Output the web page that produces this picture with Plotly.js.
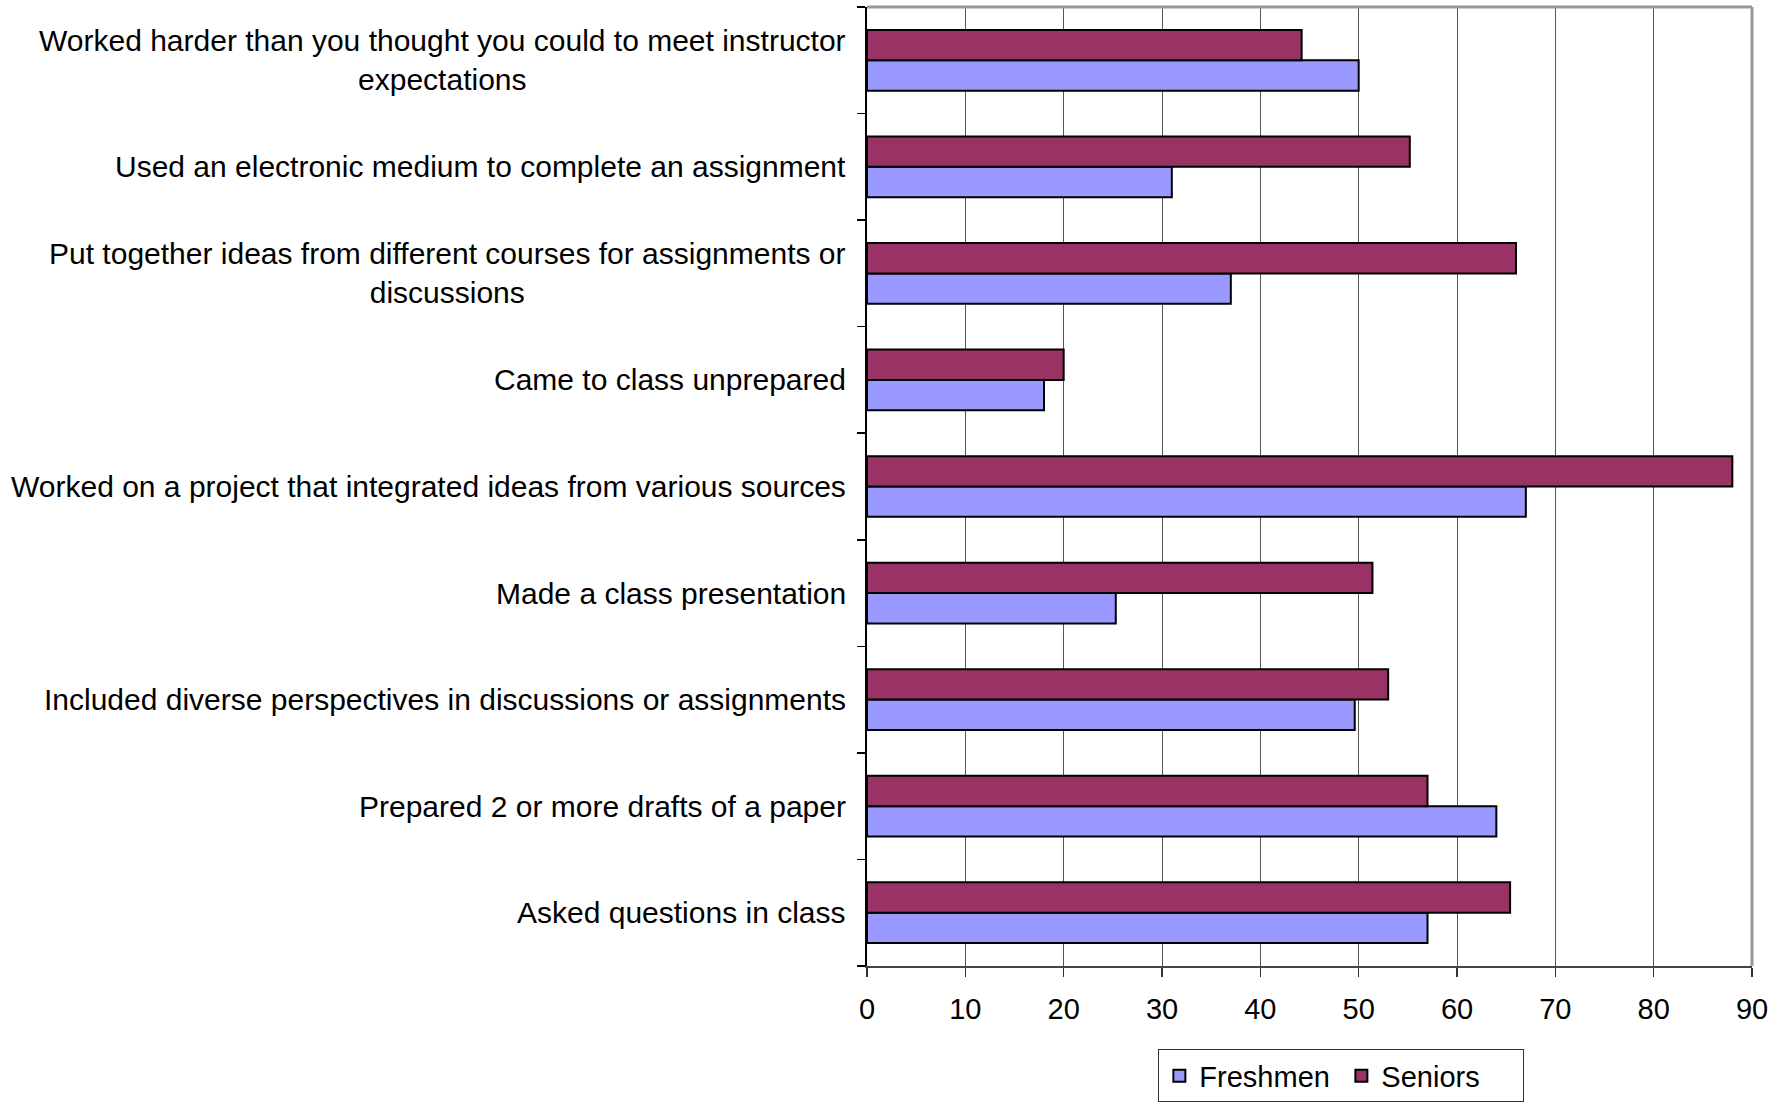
<!DOCTYPE html>
<html>
<head>
<meta charset="utf-8">
<script src="https://cdn.plot.ly/plotly-3.0.1.min.js"></script>
<style>
  html, body { margin: 0; padding: 0; background: #ffffff; }
  #chart { width: 1788px; height: 1107px; }
</style>
</head>
<body>
<div id="chart"></div>
<script>
// Categories, listed top to bottom as in the picture
const categories = [
  "Worked harder than you thought you could to meet instructor<br>expectations",
  "Used an electronic medium to complete an assignment",
  "Put together ideas from different courses for assignments or<br>discussions",
  "Came to class unprepared",
  "Worked on a project that integrated ideas from various sources",
  "Made a class presentation",
  "Included diverse perspectives in discussions or assignments",
  "Prepared 2 or more drafts of a paper",
  "Asked questions in class"
];
const freshmen = [50, 31, 37, 18, 67, 25.3, 49.6, 64, 57];
const seniors  = [44.2, 55.2, 66, 20, 88, 51.4, 53, 57, 65.4];
const seriesNames = ["Freshmen", "Seniors"];
const xTicks = [0, 10, 20, 30, 40, 50, 60, 70, 80, 90];

const FONT = "Liberation Sans, Arial, sans-serif";

const traces = [
  {
    type: "bar", orientation: "h", name: seriesNames[0],
    y: categories, x: freshmen,
    marker: { color: "#9999FF", line: { color: "#000000", width: 2 } },
    hoverinfo: "x+name"
  },
  {
    type: "bar", orientation: "h", name: seriesNames[1],
    y: categories, x: seniors,
    marker: { color: "#993366", line: { color: "#000000", width: 2 } },
    hoverinfo: "x+name"
  }
];

const annotations = categories.map(c => ({
  xref: "paper", yref: "y",
  x: 0, y: c, xanchor: "right", yanchor: "middle",
  xshift: -19,
  text: c, align: "center", showarrow: false,
  font: { family: FONT, size: 30, color: "#000000" }
}));

const layout = {
  width: 1788, height: 1107,
  margin: { l: 867, r: 36, t: 7, b: 141, pad: 0, autoexpand: false },
  paper_bgcolor: "#ffffff", plot_bgcolor: "#ffffff",
  font: { family: FONT, size: 29, color: "#000000" },
  barmode: "group", bargap: 0.43, bargroupgap: 0,
  showlegend: true,
  legend: {
    orientation: "h", x: 0.536, xanchor: "center", y: -0.087, yanchor: "top",
    bordercolor: "#333333", borderwidth: 1, bgcolor: "#ffffff",
    font: { family: FONT, size: 29, color: "#000000" },
    entrywidth: 137, entrywidthmode: "pixels",
    traceorder: "normal", itemclick: false, itemdoubleclick: false
  },
  xaxis: {
    range: [0, 90], tickvals: xTicks, ticktext: xTicks.map(String),
    ticks: "outside", ticklen: 9, tickwidth: 1.5, tickcolor: "#333333",
    showgrid: true, gridcolor: "#555555", gridwidth: 1,
    showline: true, linecolor: "#444444", linewidth: 2,
    zeroline: false, ticklabelstandoff: 7,
    tickfont: { family: FONT, size: 29, color: "#000000" },
    fixedrange: true
  },
  yaxis: {
    type: "category", categoryorder: "array",
    categoryarray: categories.slice().reverse(),
    range: [-0.5, categories.length - 0.5],
    showticklabels: false, tickson: "boundaries",
    ticks: "outside", ticklen: 8, tickwidth: 1.5, tickcolor: "#000000",
    showgrid: false, showline: true, linecolor: "#000000", linewidth: 2,
    zeroline: false, fixedrange: true
  },
  annotations: annotations,
  shapes: [
    { type: "line", xref: "paper", yref: "paper", x0: 0, x1: 1, y0: 1, y1: 1,
      line: { color: "#999999", width: 3 } },
    { type: "line", xref: "paper", yref: "paper", x0: 1, x1: 1, y0: 0, y1: 1,
      line: { color: "#999999", width: 3 } }
  ]
};

Plotly.newPlot("chart", traces, layout, { displayModeBar: false, staticPlot: true });
</script>
</body>
</html>
